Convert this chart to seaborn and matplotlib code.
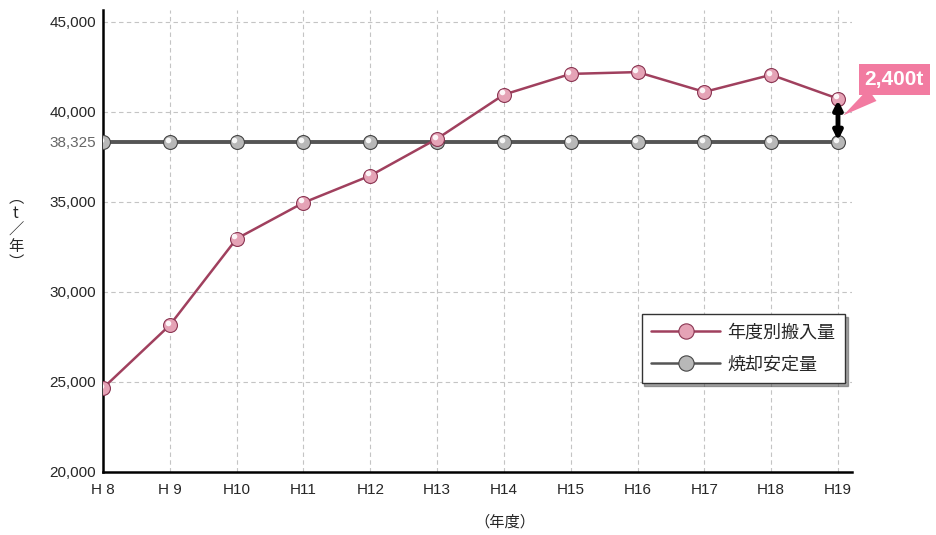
import matplotlib
matplotlib.use('Agg')
import matplotlib.pyplot as plt
import matplotlib.transforms as mtransforms
from matplotlib.lines import Line2D
import seaborn as sns
import pandas as pd
import numpy as np

# data
years = ['H 8', 'H 9', 'H10', 'H11', 'H12', 'H13', 'H14', 'H15', 'H16', 'H17', 'H18', 'H19']
intake = [24650, 28150, 32950, 34950, 36450, 38500, 40950, 42100, 42200, 41100, 42050, 40725]
stable = [38325] * 12
yticks = [20000, 25000, 30000, 35000, 38325, 40000, 45000]
series_names = ['年度別搬入量', '焼却安定量']
diff_label = '2,400t'

sns.set_style('white')
plt.rcParams['font.family'] = ['Noto Sans CJK JP', 'DejaVu Sans']

pink_line = '#a0405e'
pink_face = '#e5a3b6'
pink_edge = '#8a3552'
gray_line = '#555555'
gray_face = '#b8b8b8'
gray_edge = '#444444'
latin = ['Liberation Sans', 'DejaVu Sans']

df = pd.DataFrame({'x': np.arange(len(years)), 'intake': intake, 'stable': stable})

fig = plt.figure(figsize=(9.37, 5.35), dpi=100)
ax = fig.add_axes([0.1099, 0.1178, 0.7994, 0.8636])

hl = mtransforms.offset_copy(ax.transData, fig=fig, x=-1.6, y=1.6, units='points')

sns.lineplot(data=df, x='x', y='stable', ax=ax, color=gray_line, lw=2.8,
             marker='o', markersize=10, markerfacecolor=gray_face,
             markeredgecolor=gray_edge, markeredgewidth=0.8, zorder=3)
ax.plot(df['x'], df['stable'], ls='none', marker='o', markersize=4,
        markerfacecolor='white', markeredgecolor='none', alpha=0.9,
        transform=hl, zorder=4)

sns.lineplot(data=df, x='x', y='intake', ax=ax, color=pink_line, lw=1.8,
             marker='o', markersize=10, markerfacecolor=pink_face,
             markeredgecolor=pink_edge, markeredgewidth=0.8, zorder=5)
ax.plot(df['x'], df['intake'], ls='none', marker='o', markersize=4,
        markerfacecolor='white', markeredgecolor='none', alpha=0.9,
        transform=hl, zorder=6)

ax.set_xlim(0, 11.21)
ax.set_ylim(20000, 45650)
ax.set_xticks(df['x'])
ax.set_xticklabels(years, fontsize=11, family=latin)
ax.set_yticks(yticks)
ax.set_yticklabels([f'{v:,}' for v in yticks], fontsize=11, family=latin)
for lab, v in zip(ax.get_yticklabels(), yticks):
    if v == stable[0]:
        lab.set_color('#666666')
ax.tick_params(axis='both', length=0, pad=5)
ax.tick_params(axis='x', pad=8)

# grid
for v in [25000, 30000, 35000, 40000, 45000]:
    ax.axhline(v, color='#c4c4c4', lw=0.8, ls=(0, (4, 3)), zorder=1)
for i in df['x'][1:]:
    ax.axvline(i, color='#c4c4c4', lw=0.8, ls=(0, (4, 3)), zorder=1)

for s in ['top', 'right']:
    ax.spines[s].set_visible(False)
for s in ['left', 'bottom']:
    ax.spines[s].set_linewidth(1.8)
    ax.spines[s].set_color('black')

ax.set_xlabel('（年度）', fontsize=11)
ax.xaxis.set_label_coords(0.537, -0.09)
ax.set_ylabel('')
fig.text(0.017, 0.57, '︵\nt\n／\n年\n︶', fontsize=11, ha='center', va='center',
         linespacing=0.95)

# legend
h1 = Line2D([], [], color=pink_line, lw=1.8, marker='o', markersize=11,
            markerfacecolor=pink_face, markeredgecolor=pink_edge, markeredgewidth=0.8)
h2 = Line2D([], [], color=gray_line, lw=1.8, marker='o', markersize=11,
            markerfacecolor=gray_face, markeredgecolor=gray_edge, markeredgewidth=0.8)
leg = ax.legend([h1, h2], series_names, loc='upper right',
                bbox_to_anchor=(1.003, 0.362), fontsize=13, frameon=True,
                fancybox=False, shadow=True, handlelength=3.8,
                borderpad=0.55, labelspacing=0.75, handletextpad=0.4)
leg.get_frame().set_edgecolor('#333333')
leg.get_frame().set_linewidth(1.0)

# difference arrow and callout
last = len(years) - 1
ax.annotate('', xy=(last, intake[last] - 80), xytext=(last, stable[last] + 80),
            arrowprops=dict(arrowstyle='<|-|>,head_length=0.5,head_width=0.25',
                            lw=3.5, color='black', shrinkA=0, shrinkB=0), zorder=7)
ax.annotate(diff_label, xy=(last + 0.08, 39800), xytext=(last + 0.84, 41780),
            fontsize=15, fontweight='bold', color='white', ha='center', va='center',
            family=latin,
            bbox=dict(boxstyle='square,pad=0.28', fc='#f27ba1', ec='none'),
            arrowprops=dict(arrowstyle='wedge,tail_width=0.7', fc='#f27ba1', ec='none',
                            shrinkA=0, shrinkB=0),
            annotation_clip=False, zorder=8)

fig.savefig('out.png', dpi=100)
